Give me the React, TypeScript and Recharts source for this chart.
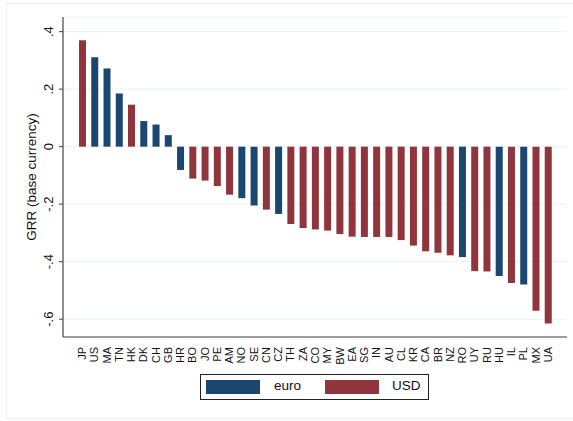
import React from 'react';
import { BarChart, Bar, XAxis, YAxis, CartesianGrid, Cell } from 'recharts';

const countries = [
  'JP', 'US', 'MA', 'TN', 'HK', 'DK', 'CH', 'GB', 'HR', 'BO', 'JO', 'PE', 'AM',
  'NO', 'SE', 'CN', 'CZ', 'TH', 'ZA', 'CO', 'MY', 'BW', 'EA', 'SG', 'IN', 'AU',
  'CL', 'KR', 'CA', 'BR', 'NZ', 'RO', 'UY', 'RU', 'HU', 'IL', 'PL', 'MX', 'UA',
];

const grr = [
  0.370, 0.311, 0.272, 0.185, 0.146, 0.089, 0.077, 0.040, -0.081, -0.111, -0.118, -0.137, -0.167,
  -0.179, -0.205, -0.219, -0.234, -0.269, -0.283, -0.288, -0.292, -0.304, -0.313, -0.314, -0.314, -0.314,
  -0.325, -0.344, -0.364, -0.369, -0.378, -0.384, -0.433, -0.434, -0.450, -0.474, -0.479, -0.571, -0.615,
];

const base = [
  'USD', 'euro', 'euro', 'euro', 'USD', 'euro', 'euro', 'euro', 'euro', 'USD', 'USD', 'USD', 'USD',
  'euro', 'euro', 'USD', 'euro', 'USD', 'USD', 'USD', 'USD', 'USD', 'USD', 'USD', 'USD', 'USD',
  'USD', 'USD', 'USD', 'USD', 'USD', 'euro', 'USD', 'USD', 'euro', 'USD', 'euro', 'USD', 'USD',
];

const yTicks = [-0.6, -0.4, -0.2, 0, 0.2, 0.4];

const COLORS: Record<string, string> = { euro: '#1a476f', USD: '#90353b' };
const FONT = '"Liberation Sans", Arial, sans-serif';

const data = countries.map((c, i) => ({ name: c, value: grr[i], base: base[i] }));

const fmt = (v: number) => {
  if (v === 0) return '0';
  const s = Math.abs(v).toFixed(1).replace(/^0/, '');
  return v < 0 ? '-' + s : s;
};

const YTick = (props: any) => {
  const { x, y, payload } = props;
  return (
    <text
      x={x - 4}
      y={y}
      transform={`rotate(-90 ${x - 4} ${y})`}
      textAnchor="middle"
      fontSize={13}
      fontFamily={FONT}
      fill="#111"
    >
      {fmt(payload.value)}
    </text>
  );
};

const XTick = (props: any) => {
  const { x, y, payload } = props;
  const ty = y + 2;
  return (
    <text
      x={x}
      y={ty}
      transform={`rotate(-90 ${x} ${ty})`}
      textAnchor="end"
      dominantBaseline="central"
      fontSize={11}
      fontFamily={FONT}
      fill="#111"
    >
      {payload.value}
    </text>
  );
};

const LegendBox = () => (
  <div
    style={{
      position: 'absolute',
      left: 200,
      top: 374,
      width: 229,
      height: 26,
      border: '1px solid #222',
      boxSizing: 'border-box',
      fontFamily: FONT,
      fontSize: 13.5,
      color: '#111',
    }}
  >
    <div style={{ position: 'absolute', left: 5, top: 5, width: 54, height: 14, background: COLORS.euro }} />
    <div style={{ position: 'absolute', left: 73, top: 3, lineHeight: '16px' }}>euro</div>
    <div style={{ position: 'absolute', left: 124, top: 5, width: 54, height: 14, background: COLORS.USD }} />
    <div style={{ position: 'absolute', left: 191, top: 3, lineHeight: '16px' }}>USD</div>
  </div>
);

export default function App() {
  return (
    <div style={{ position: 'absolute', left: 0, top: 0, width: 573, height: 421, background: '#fff' }}>
      <div
        style={{
          position: 'absolute',
          left: 6,
          top: 3,
          width: 567,
          height: 416,
          border: '1px solid #f0f0f0',
          borderRight: 'none',
          boxSizing: 'border-box',
        }}
      />
      <BarChart
        width={573}
        height={421}
        data={data}
        margin={{ top: 17, right: 6, bottom: 0, left: 0 }}
        barSize={7}
        style={{ position: 'absolute', left: 0, top: 0 }}
      >
        <CartesianGrid horizontal vertical={false} stroke="#eaf2f3" strokeWidth={1} />
        <XAxis
          dataKey="name"
          interval={0}
          tick={<XTick />}
          tickLine={false}
          axisLine={{ stroke: '#444', strokeWidth: 1.2 }}
          height={84}
          padding={{ left: 13, right: 13 }}
        />
        <YAxis
          domain={[-0.662, 0.451]}
          ticks={yTicks}
          tick={<YTick />}
          tickSize={4}
          tickLine={{ stroke: '#444' }}
          axisLine={{ stroke: '#444', strokeWidth: 1.2 }}
          width={63}
          allowDataOverflow
          label={{
            value: 'GRR (base currency)',
            angle: -90,
            position: 'insideLeft',
            dx: 26,
            style: { textAnchor: 'middle', fontSize: 13.5, fontFamily: FONT, fill: '#111' },
          }}
        />
        <Bar dataKey="value" isAnimationActive={false}>
          {data.map((d, i) => (
            <Cell key={`cell-${i}`} fill={COLORS[d.base]} />
          ))}
        </Bar>
      </BarChart>
      <LegendBox />
    </div>
  );
}
